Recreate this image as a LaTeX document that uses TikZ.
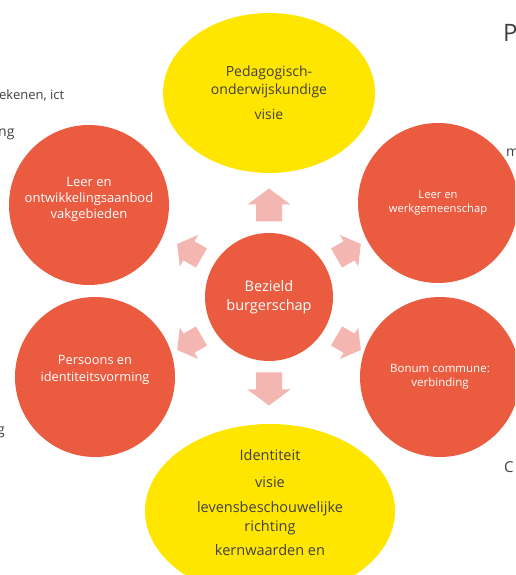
\documentclass[tikz,border=0pt]{standalone}
\usepackage{fontspec}
\setmainfont{Open Sans}
\usetikzlibrary{shapes.geometric}

\definecolor{smartrood}{RGB}{234,91,64}
\definecolor{smartroze}{RGB}{243,182,177}
\definecolor{smartgeel}{RGB}{255,230,0}
\definecolor{smartgrijs}{RGB}{64,64,64}

\tikzset{
  cirkel/.style={circle, fill=smartrood, text=white, minimum size=160pt, inner sep=0pt, align=center},
  ovaal/.style={ellipse, fill=smartgeel, text=smartgrijs, inner sep=0pt, align=center},
  pijl/.style={fill=smartroze},
  fragment/.style={text=smartgrijs, inner sep=0pt, anchor=base west}
}

\begin{document}
\begin{tikzpicture}[x=1pt,y=1pt]
 \useasboundingbox (0,0) rectangle (515,575);
 \clip (0,0) rectangle (515,575);

 % tekst van de dia achter de smartart
 \node[fragment, font=\fontsize{13}{16}\selectfont] (frag-ict) at (-1,475) {ekenen, ict};
 \node[fragment, font=\fontsize{14}{17}\selectfont] (frag-ng) at (-2,438) {ng};
 \node[fragment, font=\fontsize{14}{17}\selectfont] (frag-g) at (-3,140) {g};
 \node[fragment, font=\fontsize{24}{28}\selectfont] (frag-p) at (503,533) {P};
 \node[fragment, font=\fontsize{14}{17}\selectfont] (frag-m) at (506,418) {m};
 \node[fragment, font=\fontsize{15}{18}\selectfont] (frag-c) at (504,102) {C};

 % midden
 \node[cirkel, minimum size=128pt, font=\fontsize{14.5}{19}\selectfont] (bezield) at (269,278)
   {Bezield\\burgerschap};

 % ovalen boven en onder
 \node[ovaal, minimum width=212pt, minimum height=160pt, font=\fontsize{14}{18}\selectfont] (pedagogisch) at (269,482)
   {Pedagogisch-\\onderwijskundige\\[7pt]visie};
 \node[ovaal, minimum width=250pt, minimum height=174pt, font=\fontsize{14.5}{19}\selectfont] (identiteit) at (270,64)
   {Identiteit\\[8pt]visie\\[6pt]levensbeschouwelijke\\richting\\[5pt]kernwaarden en\\[-2pt]\mbox{}};

 % cirkels links en rechts
 \node[cirkel, font=\fontsize{13}{16}\selectfont] (leeraanbod) at (89,370)
   {Leer en\\ontwikkelingsaanbod\\vakgebieden\\[-2pt]\mbox{}};
 \node[cirkel, font=\fontsize{11.2}{14}\selectfont] (werkgemeenschap) at (438,372)
   {Leer en\\werkgemeenschap};
 \node[cirkel, font=\fontsize{12.8}{17}\selectfont] (persoons) at (95,198)
   {Persoons en\\identiteitsvorming\\\mbox{}};
 \node[cirkel, font=\fontsize{11.5}{14.5}\selectfont] (bonum) at (440,198)
   {Bonum commune:\\verbinding};

 % blokpijlen vanuit het midden
 \foreach \a/\s in {90/1,-90/1,30/.85,150/.85,-30/.85,-150/.85}
  \fill[pijl, shift={(bezield.center)}, rotate=\a, xshift=92pt, scale=\s]
   (-16.5,-13) -- (0.5,-13) -- (0.5,-21.5) -- (16.5,0) -- (0.5,21.5) -- (0.5,13) -- (-16.5,13) -- cycle;
\end{tikzpicture}
\end{document}
